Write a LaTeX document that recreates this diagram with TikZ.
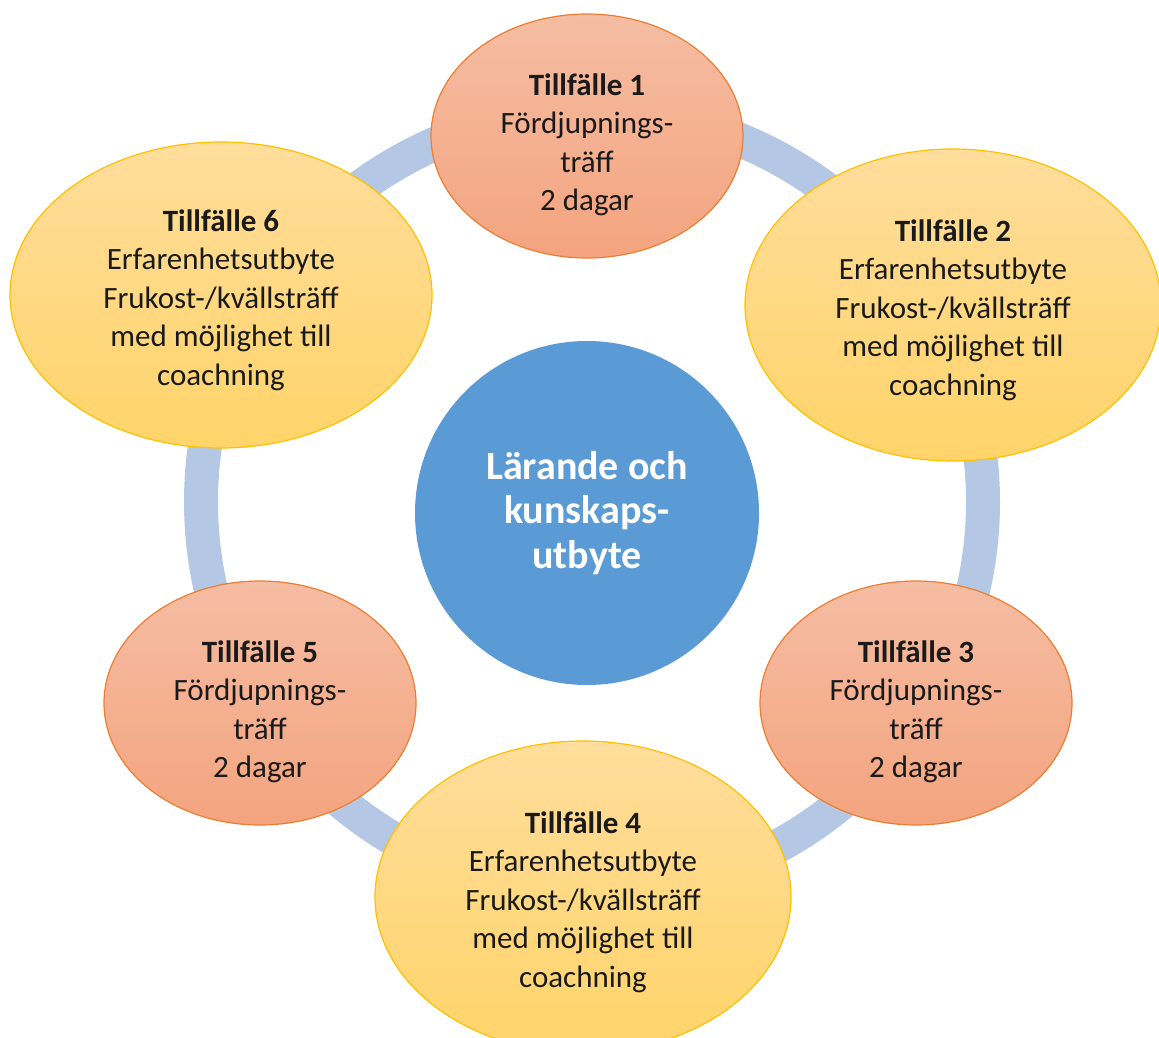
\documentclass[tikz,border=0pt]{standalone}
\usepackage{fontspec}
\setmainfont{Carlito}
\usetikzlibrary{shapes.geometric}
\definecolor{ringblue}{HTML}{B4C8E6}
\definecolor{midblue}{HTML}{5B9BD5}
\definecolor{salmontop}{HTML}{F5BDA3}
\definecolor{salmonbot}{HTML}{F4A47F}
\definecolor{salmonline}{HTML}{ED7D31}
\definecolor{yellowtop}{HTML}{FFDD9C}
\definecolor{yellowbot}{HTML}{FFD469}
\definecolor{yellowline}{HTML}{FFC000}
\definecolor{txt}{HTML}{1A1A1A}
\tikzset{
  x=1pt, y=-1pt,
  txtlabel/.style={align=center, text=txt, font=\fontsize{31}{38.5}\selectfont},
  small/.style={ellipse, draw=salmonline, line width=1.2pt, top color=salmontop, bottom color=salmonbot,
    minimum width=312pt, minimum height=244pt, inner sep=0pt,
    label={[txtlabel, yshift=-9pt]center:#1}},
  large/.style={ellipse, draw=yellowline, line width=1.2pt, top color=yellowtop, bottom color=yellowbot,
    minimum width=416pt, minimum height=312pt, inner sep=0pt,
    label={[txtlabel, yshift=-5pt]center:#1}},
  hub/.style={circle, fill=midblue, minimum size=344pt, inner sep=0pt, align=center, text=white,
    font=\fontsize{40}{44.5}\selectfont\bfseries}
}
\begin{document}
\begin{tikzpicture}
\useasboundingbox (0,0) rectangle (1159,1038);
\fill[white] (0,0) rectangle (1159,1038);
\draw[ringblue, line width=34pt] (592,502) circle (391);
\node[hub] (c) at (587,513) {Lärande och\\kunskaps-\\utbyte};
\node[small={\textbf{Tillfälle 1}\\Fördjupnings-\\träff\\2 dagar}] (t1) at (587,136) {};
\node[large={\textbf{Tillfälle 2}\\Erfarenhetsutbyte\\Frukost-/kvällsträff\\med möjlighet till\\coachning}] (t2) at (953,305) {};
\node[small={\textbf{Tillfälle 3}\\Fördjupnings-\\träff\\2 dagar}] (t3) at (916,703) {};
\node[large={\textbf{Tillfälle 4}\\Erfarenhetsutbyte\\Frukost-/kvällsträff\\med möjlighet till\\coachning}] (t4) at (583,897) {};
\node[small={\textbf{Tillfälle 5}\\Fördjupnings-\\träff\\2 dagar}] (t5) at (260,703) {};
\node[large={\textbf{Tillfälle 6}\\Erfarenhetsutbyte\\Frukost-/kvällsträff\\med möjlighet till\\coachning}, minimum width=422pt, minimum height=306pt] (t6) at (221,295) {};
\end{tikzpicture}
\end{document}
